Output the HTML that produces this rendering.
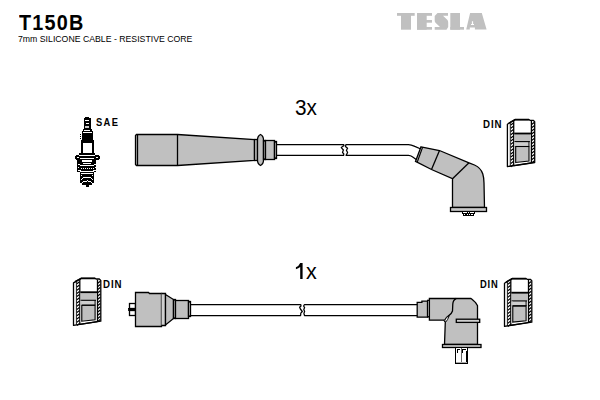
<!DOCTYPE html>
<html><head><meta charset="utf-8">
<style>
html,body{margin:0;padding:0;background:#fff;}
body{width:600px;height:400px;overflow:hidden;position:relative;font-family:"Liberation Sans",sans-serif;}
svg{position:absolute;left:0;top:0;}
.t{position:absolute;white-space:nowrap;color:#000;line-height:1;}
</style></head><body>
<svg width="600" height="400" viewBox="0 0 600 400">
<defs>
<pattern id="hatch" patternUnits="userSpaceOnUse" width="4" height="4" patternTransform="rotate(-45)">
<rect width="4" height="4" fill="#fff"/><rect width="4" height="1.8" fill="#000"/>
</pattern>
<g id="din">
  <path d="M0,4.3 L7.6,-0.4 L21.5,-0.4 L22.5,0.4 L25.8,0.4 L27.3,1.8 L27.3,42.6 L0,46.7 Z" fill="#fff" stroke="#000" stroke-width="1.3" stroke-linejoin="round"/>
  <path d="M3.4,5.2 L6,3.2 M3.4,8.4 L6,6.4 M3.4,11.6 L6,9.6 M3.4,14.8 L6,12.8 M3.4,18.0 L6,16.0 M3.4,21.2 L6,19.2 M3.4,24.4 L6,22.4 M3.4,27.6 L6,25.6 M3.4,30.8 L6,28.8 M3.4,34.0 L6,32.0 M3.4,37.2 L6,35.2 M3.4,40.4 L6,38.4 M3.4,43.6 L6,41.6 M3.4,46.8 L6,44.8 " stroke="#000" stroke-width="1.2" fill="none"/>
  <path d="M24.2,4.6 L26.8,2.6 M24.2,7.8 L26.8,5.8 M24.2,11.0 L26.8,9.0 M24.2,14.2 L26.8,12.2 M24.2,17.4 L26.8,15.4 M24.2,20.6 L26.8,18.6 M24.2,23.8 L26.8,21.8 M24.2,27.0 L26.8,25.0 M24.2,30.2 L26.8,28.2 M24.2,33.4 L26.8,31.4 M24.2,36.6 L26.8,34.6 M24.2,39.8 L26.8,37.8 M24.2,43.0 L26.8,41.0 " stroke="#000" stroke-width="1.2" fill="none"/>
  <line x1="2.9" y1="3" x2="2.9" y2="46.3" stroke="#000" stroke-width="0.9"/>
  <line x1="6.3" y1="1" x2="6.3" y2="45.8" stroke="#000" stroke-width="1.3"/>
  <line x1="24" y1="1" x2="24" y2="43" stroke="#000" stroke-width="1.3"/>
  <path d="M7.1,13.5 L23.5,13.5 L23.5,21.7 L21.6,21.7 L21.6,41.2 L7.1,42.7 Z" fill="#c0c0c0"/>
  <line x1="6.8" y1="13.6" x2="23.5" y2="13.6" stroke="#000" stroke-width="1.8"/>
  <rect x="7.7" y="21.8" width="13.9" height="4.5" fill="#cfcfcf"/>
  <line x1="7.1" y1="21.7" x2="22.5" y2="21.7" stroke="#000" stroke-width="1.1"/>
  <line x1="7.1" y1="26.6" x2="21.6" y2="26.6" stroke="#000" stroke-width="1.1"/>
  <line x1="21.6" y1="21.7" x2="21.6" y2="26.6" stroke="#000" stroke-width="1"/>
  <rect x="6.9" y="22.3" width="1.6" height="21.3" fill="#c8c8c8"/>
  <path d="M8.3,26.6 L21.6,26.6 L21.6,41.2 L8.3,42.6 Z" fill="none" stroke="#000" stroke-width="1.1"/>
  <line x1="6.3" y1="45.8" x2="24" y2="43" stroke="#000" stroke-width="1.1"/>
  <path d="M1.5,3.2 L7.6,-0.1 L21.5,-0.1" fill="none" stroke="#000" stroke-width="1.6"/>
</g>
</defs>

<!-- TESLA logo -->
<g fill="#c0c0c0">
  <rect x="397" y="13" width="17.7" height="2.8"/>
  <rect x="401" y="13" width="10" height="16.7"/>
  <rect x="417" y="13" width="9.7" height="16.7"/>
  <rect x="417" y="13" width="15" height="2.8"/>
  <rect x="417" y="20" width="15" height="2.7"/>
  <rect x="417" y="27" width="15" height="2.7"/>
  <path d="M437.5,13 L448,13 L448,15.8 L443,15.8 L447.5,20 Q448.2,21 448.2,22.5 L448.2,27 L446.5,29.7 L434.7,29.7 L434.7,27 L440,27 L435.5,22.7 Q434.7,21.8 434.7,20.5 L434.7,16 Z"/>
  <rect x="450.3" y="13" width="9.7" height="16.7"/>
  <rect x="450.3" y="27" width="13.7" height="2.7"/>
  <path d="M470.1,12.9 L481.8,12.9 L486.6,29.5 L474.9,29.5 L474.9,27.6 L469.8,27.6 L469.8,29.5 L466.2,29.5 Z M471,24.9 L474,24.9 L474,24 L473.1,24 L473.1,21.3 L471.9,21.3 L471.9,24 L471,24 Z" fill-rule="evenodd"/>
</g>
<!-- ===== TOP ROW ===== -->
<!-- spark plug -->
<g shape-rendering="crispEdges">
  <rect x="85" y="117" width="4" height="2" fill="#000"/>
  <rect x="84" y="118" width="7" height="11" fill="#000"/>
  <rect x="85" y="120" width="4" height="1" fill="#fff"/>
  <rect x="86" y="123" width="3" height="1" fill="#fff"/>
  <rect x="85" y="126" width="4" height="2" fill="#c8c8c8"/>
  <rect x="83" y="129" width="9" height="3" fill="#000"/>
  <rect x="84" y="130" width="6" height="1" fill="#fff"/>
  <rect x="82" y="131" width="11" height="10" fill="#000"/>
  <rect x="83" y="132" width="9" height="1" fill="#fff"/>
  <rect x="80" y="134" width="1" height="1" fill="#000"/>
  <rect x="80" y="136" width="1" height="1" fill="#000"/>
  <rect x="80" y="138" width="1" height="1" fill="#000"/>
  <rect x="81" y="140" width="13" height="14" fill="#000"/>
  <rect x="83" y="143" width="9" height="10" fill="#fff"/>
  <rect x="82" y="141" width="11" height="1" fill="#000"/>
  <rect x="79" y="153" width="16" height="2" fill="#000"/>
  <rect x="76" y="155" width="23" height="5" fill="#000"/>
  <rect x="75" y="156" width="25" height="3" fill="#000"/>
  <rect x="79" y="155" width="16" height="1" fill="#fff"/>
  <rect x="77" y="157" width="2" height="1" fill="#fff"/>
  <rect x="96" y="157" width="2" height="1" fill="#fff"/>
  <rect x="80" y="158" width="14" height="1" fill="#fff"/>
  <rect x="77" y="159" width="19" height="13" fill="#000"/>
  <rect x="82" y="160" width="10" height="2" fill="#fff"/>
  <rect x="83" y="163" width="8" height="1" fill="#fff"/>
  <rect x="78" y="164" width="2" height="1" fill="#fff"/>
  <rect x="80" y="165" width="14" height="1" fill="#fff"/>
  <rect x="94" y="164" width="2" height="1" fill="#fff"/>
  <g fill="#fff"><rect x="78" y="167" width="1" height="1"/><rect x="95" y="167" width="1" height="1"/>
  <rect x="81" y="168" width="1" height="1"/><rect x="83" y="168" width="1" height="1"/><rect x="85" y="168" width="1" height="1"/><rect x="87" y="168" width="1" height="1"/><rect x="89" y="168" width="1" height="1"/><rect x="91" y="168" width="1" height="1"/><rect x="93" y="168" width="1" height="1"/></g>
  <rect x="78" y="170" width="3" height="1" fill="#fff"/>
  <rect x="93" y="170" width="3" height="1" fill="#fff"/>
  <rect x="80" y="171" width="14" height="1" fill="#fff"/>
  <rect x="80" y="172" width="14" height="11" fill="#000"/>
  <rect x="82" y="183" width="10" height="2" fill="#000"/>
  <rect x="81" y="173" width="12" height="1" fill="#fff"/>
  <rect x="81" y="175" width="1" height="1" fill="#fff"/><rect x="92" y="175" width="1" height="1" fill="#fff"/>
  <rect x="83" y="177" width="8" height="1" fill="#fff"/>
  <rect x="82" y="178" width="1" height="1" fill="#fff"/><rect x="91" y="178" width="1" height="1" fill="#fff"/>
  <rect x="81" y="179" width="1" height="1" fill="#fff"/><rect x="92" y="179" width="1" height="1" fill="#fff"/>
  <rect x="87" y="180" width="1" height="1" fill="#fff"/>
  <rect x="83" y="181" width="4" height="1" fill="#fff"/><rect x="88" y="181" width="3" height="1" fill="#fff"/>
  <rect x="82" y="182" width="1" height="1" fill="#fff"/><rect x="91" y="182" width="1" height="1" fill="#fff"/>
  <rect x="86" y="184" width="3" height="3" fill="#000"/>
</g>
<!-- top straight boot -->
<g stroke="#000" stroke-width="1.3" fill="#c0c0c0">
  <path d="M136.5,134.5 L177.5,134.5 L254.5,139.5 L254.5,160.5 L177.5,165.5 L136.5,165.5 L135.5,164.5 L135.5,135.5 Z"/>
  <line x1="137.5" y1="135" x2="137.5" y2="165"/>
  <line x1="177.5" y1="134.5" x2="177.5" y2="165.5"/>
  <rect x="254.5" y="139.5" width="3" height="21"/>
  <path d="M260.5,134.5 Q263.5,136 263.5,140 L263.5,160 Q263.5,164 260.5,165.5 Q257.5,164 257.5,160 L257.5,140 Q257.5,136 260.5,134.5 Z"/>
  <rect x="263.5" y="140.5" width="2" height="19"/>
  <rect x="265.5" y="140.5" width="9" height="19"/>
  <rect x="274.5" y="141.5" width="2" height="17"/>
</g>
<!-- top cable -->
<g stroke="#000" stroke-width="1.25" fill="none" stroke-linejoin="round">
  <path d="M276.5,144.5 L343.7,144.5 L344,145.6 L341.3,147.6 L343.4,150 L342.5,152.4 L343.8,154 L343.6,155.4 L276.5,155.4"/>
  <path d="M420.2,148.8 L414.8,146.4 Q411,144.5 408.5,144.5 L346,144.5 L345.4,146.4 L347.6,148.2 L346.4,150.2 L347.6,152.5 L346.1,155.4 L408.5,155.4 Q410.5,155.5 412,156.6 L416.2,159.5"/>
</g>
<!-- top angled boot -->
<g stroke="#000" stroke-width="1.3" fill="#c0c0c0" stroke-linejoin="miter">
  <path d="M421,146.8 L439.5,150.5 L469,162.8 L474.5,165 Q481,168 482.8,174 Q484,178 484,183 L484.5,207.5 L452.5,207.5 L452.5,178.7 L431.5,169.5 L415.5,161.4 Z"/>
  <line x1="422.6" y1="147.3" x2="417.2" y2="162.2" stroke-width="1.1"/>
  <line x1="439.5" y1="150.5" x2="431.5" y2="169.5"/>
  <line x1="469" y1="162.8" x2="452.5" y2="178.7"/>
  <rect x="450.5" y="207.5" width="36" height="4" fill="#c8c8c8"/>
  <g stroke="none" shape-rendering="crispEdges">
  <rect x="462" y="211" width="13" height="3" fill="#000"/>
  <rect x="463" y="214" width="11" height="2" fill="#000"/>
  <rect x="463" y="212" width="4" height="1" fill="#fff"/>
  <rect x="468" y="212" width="1" height="1" fill="#fff"/>
  <rect x="470" y="212" width="4" height="1" fill="#fff"/>
  <rect x="464" y="214" width="1" height="1" fill="#fff"/>
  <rect x="467" y="214" width="1" height="1" fill="#fff"/>
  <rect x="469" y="214" width="1" height="1" fill="#fff"/>
  <rect x="471" y="214" width="2" height="1" fill="#fff"/>
  </g>
</g>
<use href="#din" x="507.4" y="119.9"/>

<!-- ===== BOTTOM ROW ===== -->
<use href="#din" x="73.5" y="278.6"/>
<!-- bottom straight boot -->
<g stroke="#000" stroke-width="1.3" fill="#c0c0c0" stroke-linejoin="miter">
  <rect x="129.5" y="303.5" width="6" height="5" fill="#fff"/>
  <rect x="129.5" y="310.5" width="6" height="5" fill="#fff"/>
  <rect x="128.5" y="308.5" width="7" height="2" fill="#000" stroke-width="0.8"/>
  <path d="M135.5,292.5 L148.5,292.5 L149.5,293.5 L161.5,293.5 L161.5,326.5 L135.5,326.5 Z"/>
  <path d="M161.5,293.5 L165.5,293.5 L165.5,325.5 L161.5,325.5" fill="#d0d0d0"/>
  <path d="M165.5,294.5 L173.5,299.5 L173.5,318.5 L165.5,325 Z"/>
  <rect x="173.5" y="299.5" width="2" height="19" fill="#d0d0d0"/>
  <rect x="175.5" y="300.5" width="13" height="18"/>
  <rect x="188.5" y="301.5" width="2" height="15" fill="#d0d0d0"/>
</g>
<g stroke="#000" stroke-width="1.25" fill="none" stroke-linejoin="round">
  <path d="M190.5,304.5 L300.8,304.5 L301,306 L299.6,307.2 L300.4,309 L302.3,311.5 L300.8,313.2 L300.6,315.5 L190.5,315.5"/>
  <path d="M417.2,304.5 L304.5,304.5 L303.6,306 L304.6,307.6 L303.8,309.5 L304.6,311.5 L303.9,313.4 L304.5,315.5 L417.2,315.5"/>
</g>
<!-- bottom angled boot -->
<g stroke="#000" stroke-width="1.3" fill="#c0c0c0" stroke-linejoin="miter">
  <path d="M417.2,302.3 L421.9,302.3 L421.9,301.1 L427.5,301.1 L427.5,317.2 L417.2,317.2 Z"/>
  <rect x="427.5" y="300.2" width="1.9" height="16.8" fill="#d0d0d0" stroke-width="1"/>
  <path d="M429.4,298.5 L470.8,298.5 L472.3,299.6 L475.6,302.6 L477.5,305.6 L477.5,344.5 L444.5,344.5 L445.3,322 L443.8,320.2 L429.4,320.2 Z"/>
  <path d="M456.3,298.3 Q453,300 452.8,304 L452.5,311 Q451.5,314 448.8,315.6 Q446,317.5 444.8,320" fill="none"/>
  <path d="M444.8,320.2 Q446,317 449.2,315.8 Q448,319.5 445.5,322.5 Z" fill="#fff" stroke-width="0.9"/>
  <rect x="456.3" y="319.2" width="23.4" height="3.2" fill="#d0d0d0"/>
  <rect x="442.5" y="344.5" width="38.5" height="3" fill="#c8c8c8"/>
  <g stroke="none" shape-rendering="crispEdges">
  <rect x="455" y="347" width="13" height="17" fill="#000"/>
  <rect x="456" y="348" width="11" height="15" fill="#fff"/>
  <rect x="461" y="348" width="1" height="15" fill="#666"/>
  <rect x="457" y="349" width="3" height="1" fill="#000"/>
  <rect x="457" y="350" width="1" height="3" fill="#000"/>
  <rect x="462" y="349" width="4" height="1" fill="#000"/>
  <rect x="462" y="350" width="1" height="3" fill="#000"/>
  <rect x="466" y="351" width="1" height="11" fill="#000"/>
  <rect x="456" y="362" width="11" height="1" fill="#aaa"/>
  </g>
</g>
<use href="#din" transform="translate(504.5,278.9) scale(1,1.015)"/>
</svg>

<div class="t" style="left:19.4px;top:11.5px;font-size:22.5px;font-weight:bold;letter-spacing:1.4px;transform:scaleX(0.88);transform-origin:0 0;">T150B</div>
<div class="t" style="left:17.6px;top:33.8px;font-size:9.4px;transform:scaleX(0.93);transform-origin:0 0;">7mm SILICONE CABLE - RESISTIVE CORE</div>
<div class="t" style="left:96px;top:117px;font-size:11px;font-weight:bold;letter-spacing:1.6px;transform:scaleX(0.85);transform-origin:0 0;">SAE</div>
<div class="t" style="left:482.9px;top:119px;font-size:11px;font-weight:bold;letter-spacing:1.1px;transform:scaleX(0.88);transform-origin:0 0;">DIN</div>
<div class="t" style="left:102.9px;top:279px;font-size:11px;font-weight:bold;letter-spacing:1.1px;transform:scaleX(0.88);transform-origin:0 0;">DIN</div>
<div class="t" style="left:480.3px;top:278.8px;font-size:11px;font-weight:bold;letter-spacing:0.9px;transform:scaleX(0.85);transform-origin:0 0;">DIN</div>
<div class="t" style="left:295.3px;top:97.8px;font-size:21.5px;transform:scaleX(0.965);transform-origin:0 0;">3x</div>
<div class="t" style="left:294px;top:262px;font-size:21.5px;"><span style="visibility:hidden">1</span>x</div>
<svg width="600" height="400" style="position:absolute;left:0;top:0"><path d="M300.2,263 L302.6,263 L302.6,279 L300.2,279 L300.2,267 Q298.5,268.6 295.9,269.2 L295.9,267.2 Q299,266 300.2,263 Z" fill="#000"/></svg>
</body></html>
